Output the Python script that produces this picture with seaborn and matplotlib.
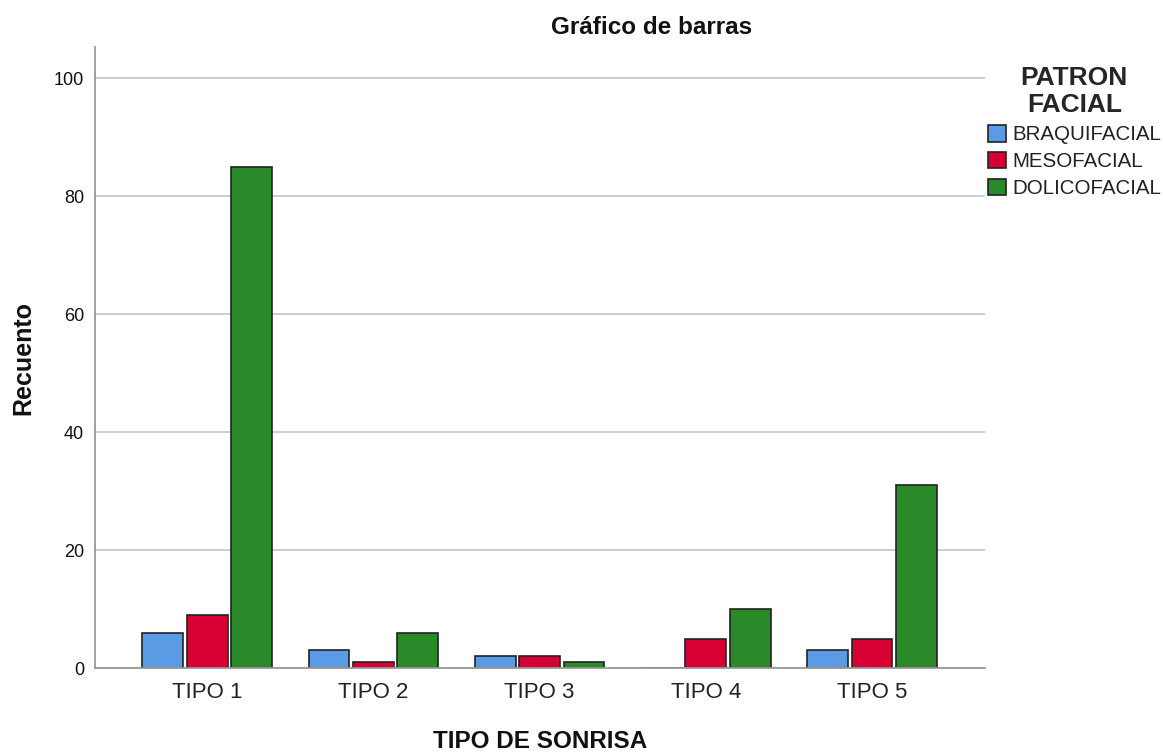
import pandas as pd
import matplotlib
matplotlib.use("Agg")
import matplotlib.pyplot as plt
import seaborn as sns

# data
tipos = ['TIPO 1', 'TIPO 2', 'TIPO 3', 'TIPO 4', 'TIPO 5']
patrones = ['BRAQUIFACIAL', 'MESOFACIAL', 'DOLICOFACIAL']
braquifacial = [6, 3, 2, 0, 3]
mesofacial = [9, 1, 2, 5, 5]
dolicofacial = [85, 6, 1, 10, 31]
colores = ['#5B9BE6', '#D70033', '#2A8A2A']

df = pd.DataFrame({
    'tipo': tipos * 3,
    'patron': [p for p in patrones for _ in tipos],
    'recuento': braquifacial + mesofacial + dolicofacial,
})

sns.set_theme(style='white')
plt.rcParams['font.family'] = ['Liberation Sans', 'DejaVu Sans']

fig = plt.figure(figsize=(11.63, 7.54), dpi=100)
ax = fig.add_axes([0.0817, 0.114, 0.7653, 0.8237])

sns.barplot(data=df, x='tipo', y='recuento', hue='patron',
            order=tipos, hue_order=patrones, palette=colores, saturation=1,
            width=0.8, gap=0.08, edgecolor='#222222', linewidth=1.2,
            errorbar=None, ax=ax)

ax.set_ylim(0, 105.3)
ax.set_xlim(-0.675, 4.68)
ax.set_yticks([0, 20, 40, 60, 80, 100])
ax.yaxis.grid(True, color='#c8c8c8', linewidth=1.3)
ax.set_axisbelow(True)
for s in ['top', 'right']:
    ax.spines[s].set_visible(False)
for s in ['left', 'bottom']:
    ax.spines[s].set_color('#999999')
    ax.spines[s].set_linewidth(1.3)
ax.tick_params(axis='both', length=0)
ax.tick_params(axis='y', labelsize=13, pad=8, colors='#111111')
ax.tick_params(axis='x', labelsize=16, pad=10, colors='#222222')

ax.set_xlabel('TIPO DE SONRISA', fontsize=17.5, fontweight='bold', color='#111111')
ax.xaxis.label.set_va('center')
ax.xaxis.set_label_coords(0.5, -0.1185)
ax.set_ylabel('Recuento', fontsize=18, fontweight='bold', color='#111111')
ax.yaxis.label.set_va('center')
ax.yaxis.set_label_coords(-0.081, 0.5)

fig.text(0.56, 0.963, 'Gráfico de barras', ha='center', va='center',
         fontsize=17.5, fontweight='bold', color='#111111')

leg = ax.legend(title='PATRON\nFACIAL', loc='upper left',
                bbox_to_anchor=(1.003, 0.97), frameon=False,
                fontsize=14.8, title_fontsize=19,
                handlelength=0.88, handleheight=0.88, handletextpad=0.3,
                labelspacing=0.36, borderaxespad=0.0, borderpad=0.0)
leg.get_title().set_fontweight('bold')
leg.get_title().set_multialignment('center')
for t in leg.get_texts():
    t.set_color('#222222')

fig.savefig('out.png', dpi=100)
